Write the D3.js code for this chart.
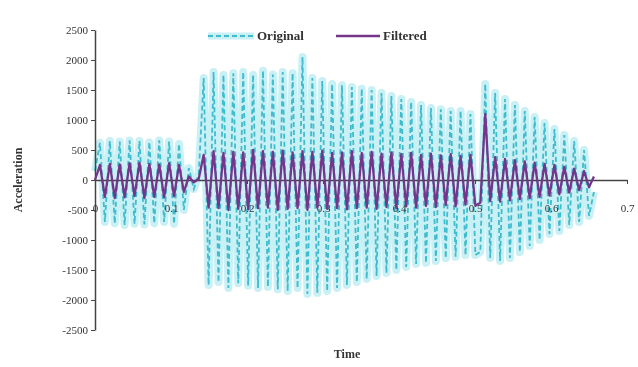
<!DOCTYPE html>
<html>
<head>
<meta charset="utf-8">
<script src="https://cdn.jsdelivr.net/npm/d3@7"></script>
<style>
  body { margin: 0; background: #fff; }
  svg { display: block; filter: blur(0.5px); }
  text { font-family: "Liberation Serif", "DejaVu Serif", serif; fill: #333; }
</style>
</head>
<body>
<svg id="chart" width="638" height="367"></svg>
<script>
// sampling interval of both series (s)
const sampleStep = 0.0065;

const seriesNames = ["Original", "Filtered"];

const originalValues = [
  150, 620, -700, 650, -720, 640, -750, 660, -730, 650, -740, 630, -720, 660, -700, 640, -730, 600, -500,
  200, -150, 100,
  1700, -1750, 1800, -1700, 1750, -1800, 1780, -1720, 1800, -1760,
  1750, -1800, 1820, -1780, 1760, -1820, 1800, -1850, 1780, -1800,
  2050, -1900, 1700, -1880, 1650, -1850, 1600, -1800, 1580, -1750,
  1550, -1700, 1520, -1650, 1500, -1600, 1450, -1550, 1400, -1500,
  1350, -1450, 1300, -1400, 1250, -1380, 1200, -1350, 1180, -1300,
  1150, -1280, 1150, -1250, 1100, -1250, -1200,
  1600, -1300,
  1450, -1350, 1350, -1300, 1250, -1200, 1150, -1100, 1050, -1000,
  950, -900, 850, -850, 750, -750, 650, -700, 500, -600, -200
];

const filteredValues = [
  0, 250, -280, 270, -300, 260, -290, 280, -270, 290, -300, 270, -280, 260, -290, 280, -270, 250, -200,
  60, -40, 20,
  420, -460, 480, -470, 450, -500, 470, -480, 460, -490,
  500, -470, 480, -460, 470, -500, 490, -480, 460, -470,
  480, -500, 470, -460, 490, -480, 450, -470, 460, -490,
  480, -470, 450, -460, 470, -480, 440, -450, 460, -470,
  430, -440, 450, -460, 420, -430, 440, -450, 410, -420,
  430, -440, 400, -410, 420, -430, -380,
  1100, -350,
  380, -360, 350, -340, 330, -320, 310, -300, 290, -280,
  270, -260, 250, -240, 220, -210, 190, -170, 150, -120, 60
];

const xTicks = [0, 0.1, 0.2, 0.3, 0.4, 0.5, 0.6, 0.7];
const yTicks = [-2500, -2000, -1500, -1000, -500, 0, 500, 1000, 1500, 2000, 2500];

const svg = d3.select("#chart");
const x = d3.scaleLinear().domain([0, 0.7]).range([95, 627]);
const y = d3.scaleLinear().domain([-2500, 2500]).range([330, 30]);

const toPoints = vals => vals.map((v, i) => ({ t: i * sampleStep, v: v }));
const line = d3.line().x(d => x(d.t)).y(d => y(d.v));

// original signal: glow + dashed line
const orig = toPoints(originalValues);
svg.append("path").datum(orig)
  .attr("d", line).attr("fill", "none")
  .attr("stroke", "#c9f0f5").attr("stroke-width", 8).attr("stroke-linejoin", "round");
svg.append("path").datum(orig)
  .attr("d", line).attr("fill", "none")
  .attr("stroke", "#3fbccd").attr("stroke-width", 1.8)
  .attr("stroke-dasharray", "5,3");

// axes
const gy = svg.append("g").attr("transform", `translate(${x(0)},0)`)
  .call(d3.axisLeft(y).tickValues(yTicks).tickSize(4).tickSizeOuter(0).tickPadding(3).tickFormat(d => d));
gy.select(".domain").attr("stroke", "#444").attr("stroke-width", 1.5);
gy.selectAll("line").attr("stroke", "#444");
gy.selectAll("text").style("font-size", "11px").attr("fill", "#333");

const gx = svg.append("g").attr("transform", `translate(0,${y(0)})`)
  .call(d3.axisBottom(x).tickValues(xTicks).tickSize(4).tickSizeOuter(0).tickFormat(d => d));
gx.select(".domain").attr("stroke", "#444").attr("stroke-width", 1.5);
gx.selectAll("line").attr("stroke", "#444");
gx.selectAll("text").style("font-size", "11px").attr("fill", "#333").attr("y", 24);

// filtered signal
svg.append("path").datum(toPoints(filteredValues))
  .attr("d", line).attr("fill", "none")
  .attr("stroke", "#74358a").attr("stroke-width", 2.3).attr("stroke-linejoin", "round");

// legend
const lg = svg.append("g").attr("transform", "translate(0,36)");
lg.append("line").attr("x1", 208).attr("x2", 254).attr("y1", 0).attr("y2", 0)
  .attr("stroke", "#c9f0f5").attr("stroke-width", 7);
lg.append("line").attr("x1", 208).attr("x2", 254).attr("y1", 0).attr("y2", 0)
  .attr("stroke", "#3fbccd").attr("stroke-width", 1.8).attr("stroke-dasharray", "5,3");
lg.append("text").attr("x", 257).attr("y", 4).style("font-size", "13px").style("font-weight", "bold")
  .text(seriesNames[0]);
lg.append("line").attr("x1", 336).attr("x2", 380).attr("y1", 0).attr("y2", 0)
  .attr("stroke", "#74358a").attr("stroke-width", 2.3);
lg.append("text").attr("x", 383).attr("y", 4).style("font-size", "13px").style("font-weight", "bold")
  .text(seriesNames[1]);

// axis titles
svg.append("text").attr("transform", "translate(22,180) rotate(-90)")
  .attr("text-anchor", "middle").style("font-size", "12px").style("font-weight", "bold")
  .text("Acceleration");
svg.append("text").attr("x", 347).attr("y", 358)
  .attr("text-anchor", "middle").style("font-size", "12px").style("font-weight", "bold")
  .text("Time");
</script>
</body>
</html>
